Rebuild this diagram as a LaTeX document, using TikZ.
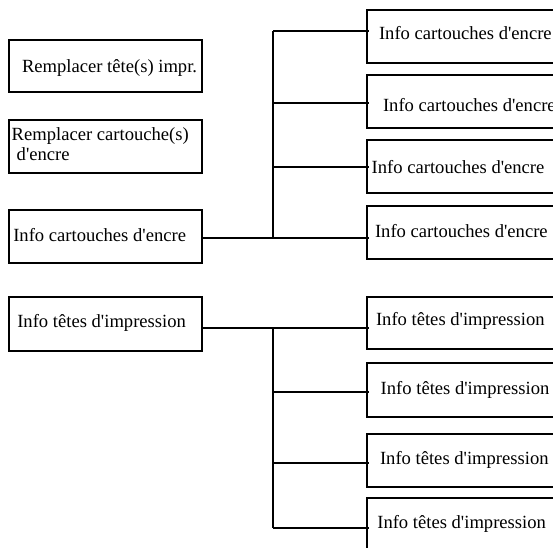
\documentclass[tikz,border=0pt]{standalone}
\usepackage{fontspec}
\setmainfont{Liberation Serif}[Ligatures=TeXOff]
\begin{document}
\begin{tikzpicture}[x=1pt,y=-1pt,
  line width=1.7pt,
  box/.style={draw=black, rectangle, inner sep=0pt, outer sep=0pt},
  lbox/.style={box, minimum width=193.3pt},
  rbox/.style={box, minimum width=213.3pt},
  txt/.style={anchor=base west, inner sep=0pt, outer sep=0pt,
    font=\fontsize{18.6}{21}\selectfont},
  link/.style={draw=black, line width=1.7pt}]
\useasboundingbox (0,0) rectangle (553,547);
\clip (0,0) rectangle (553,547);

% left column
\node[lbox, minimum height=52pt]   (rtete)  at (105.35,66)    {};
\node[lbox, minimum height=52.7pt] (rcart)  at (105.35,146.35) {};
\node[lbox, minimum height=53pt]   (icart)  at (105.35,236.5)  {};
\node[lbox, minimum height=53.4pt] (itete)  at (105.35,324)    {};

\node[txt] (trtete) at (22,72.7)   {Remplacer tête(s) impr.};
\node[txt] (trcart) at (11.7,140)  {Remplacer cartouche(s)};
\node[txt] (trcartb) at (16.7,160) {d'encre};
\node[txt] (ticart) at (13.3,241)  {Info cartouches d'encre};
\node[txt] (titete) at (17.3,327.3) {Info têtes d'impression};

% right column, ink cartridges
\node[rbox, minimum height=53pt]   (ca) at (473.35,36.5)   {};
\node[rbox, minimum height=52.7pt] (cb) at (473.35,101.35) {};
\node[rbox, minimum height=52.7pt] (cc) at (473.35,166.35) {};
\node[rbox, minimum height=53pt]   (cd) at (473.35,232.5)  {};

\node[txt] (tca) at (379,39)     {Info cartouches d'encre};
\node[txt] (tcb) at (383,111)    {Info cartouches d'encre};
\node[txt] (tcc) at (371.7,173.3) {Info cartouches d'encre};
\node[txt] (tcd) at (375,237.3)  {Info cartouches d'encre};

% right column, print heads
\node[rbox, minimum height=52.3pt] (ha) at (473.35,322.85) {};
\node[rbox, minimum height=53.4pt] (hb) at (473.35,390)    {};
\node[rbox, minimum height=52.7pt] (hc) at (473.35,460.35) {};
\node[rbox, minimum height=52.7pt] (hd) at (473.35,524.05) {};

\node[txt] (tha) at (376,325)    {Info têtes d'impression};
\node[txt] (thb) at (380.7,394.3) {Info têtes d'impression};
\node[txt] (thc) at (380,464.3)  {Info têtes d'impression};
\node[txt] (thd) at (377.3,528.3) {Info têtes d'impression};

% trunk junctions
\coordinate (j1) at (273,31);
\coordinate (j2) at (273,103);
\coordinate (j3) at (273,166.7);
\coordinate (j4) at (273,237.7);
\coordinate (k1) at (273,327.7);
\coordinate (k2) at (273,391.7);
\coordinate (k3) at (273,462.7);
\coordinate (k4) at (273,527.7);

% ink cartridge tree
\draw[link] (icart.east |- j4) -- (j4);
\draw[link] (j1) -- (j4);
\draw[link] (j1) -- ([xshift=2.5pt]ca.west |- j1);
\draw[link] (j2) -- ([xshift=2.5pt]cb.west |- j2);
\draw[link] (j3) -- ([xshift=2.5pt]cc.west |- j3);
\draw[link] (j4) -- ([xshift=2.5pt]cd.west |- j4);

% print head tree
\draw[link] (itete.east |- k1) -- (k1);
\draw[link] (k1) -- (k4);
\draw[link] (k1) -- ([xshift=2.5pt]ha.west |- k1);
\draw[link] (k2) -- ([xshift=2.5pt]hb.west |- k2);
\draw[link] (k3) -- ([xshift=2.5pt]hc.west |- k3);
\draw[link] (k4) -- ([xshift=2.5pt]hd.west |- k4);
\end{tikzpicture}
\end{document}
